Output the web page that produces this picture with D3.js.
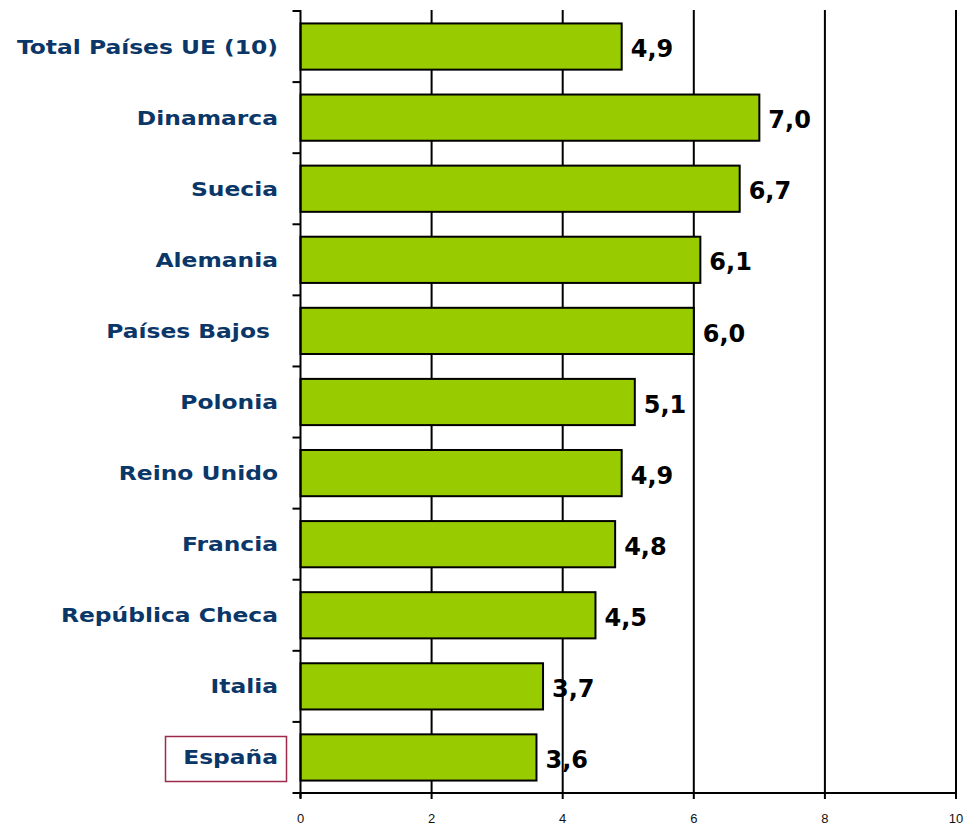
<!DOCTYPE html>
<html>
<head>
<meta charset="utf-8">
<script src="https://cdn.jsdelivr.net/npm/d3@7"></script>
<style>
  body { margin: 0; background: #fff; }
</style>
</head>
<body>
<div id="chart"></div>
<script>
var width = 965;
var height = 826;

var countries = ["Total Países UE (10)", "Dinamarca", "Suecia", "Alemania", "Países Bajos ",
  "Polonia", "Reino Unido", "Francia", "República Checa", "Italia", "España"];
var values = [4.9, 7.0, 6.7, 6.1, 6.0, 5.1, 4.9, 4.8, 4.5, 3.7, 3.6];
var xTicks = [0, 2, 4, 6, 8, 10];

var svg = d3.select("#chart").append("svg")
  .attr("width", width)
  .attr("height", height)
  .style("background-color", "white");

var x = d3.scaleLinear().domain([0, 10]).range([300.5, 956]);
var y = d3.scaleBand().domain(countries).range([11, 793])
  .paddingInner(0.35).paddingOuter(0.175);

// vertical grid lines
svg.selectAll(".grid").data(xTicks.slice(1)).join("line")
  .attr("x1", d => x(d)).attr("x2", d => x(d))
  .attr("y1", 10).attr("y2", 793)
  .attr("stroke", "black").attr("stroke-width", 2);

// bars
svg.selectAll(".bar").data(values).join("rect")
  .attr("x", x(0))
  .attr("y", (d, i) => y(countries[i]))
  .attr("width", d => x(d) - x(0))
  .attr("height", y.bandwidth())
  .attr("fill", "#99cc00")
  .attr("stroke", "black")
  .attr("stroke-width", 2);

// y axis line and ticks between categories
var step = y.step();
var bounds = d3.range(countries.length + 1).map(i => 11 + i * step);
svg.append("line").attr("x1", x(0)).attr("x2", x(0))
  .attr("y1", 10).attr("y2", 798).attr("stroke", "black").attr("stroke-width", 2);
svg.selectAll(".ytick").data(bounds).join("line")
  .attr("x1", x(0) - 8).attr("x2", x(0))
  .attr("y1", d => d).attr("y2", d => d)
  .attr("stroke", "black").attr("stroke-width", 2);

// x axis
svg.append("line").attr("x1", x(0)).attr("x2", x(10))
  .attr("y1", 793).attr("y2", 793).attr("stroke", "black").attr("stroke-width", 2);
svg.selectAll(".xtick").data(xTicks).join("line")
  .attr("x1", d => x(d)).attr("x2", d => x(d))
  .attr("y1", 793).attr("y2", 799)
  .attr("stroke", "black").attr("stroke-width", 2);
svg.selectAll(".xlabel").data(xTicks).join("text")
  .attr("x", d => x(d)).attr("y", 823)
  .attr("text-anchor", "middle")
  .attr("font-family", "Liberation Sans, Arial, sans-serif")
  .attr("font-size", 13)
  .attr("fill", "#111")
  .text(d => d);

// España box
svg.append("rect")
  .attr("x", 165.5).attr("y", 736.5)
  .attr("width", 121).attr("height", 45)
  .attr("fill", "none").attr("stroke", "#9e2a4b").attr("stroke-width", 1.5);

// category labels (stretched a bit, the original font is wider)
svg.selectAll(".ylabel").data(countries).join("text")
  .attr("transform", d => "translate(278," + (y(d) + y.bandwidth() / 2) + ") scale(1.2,1)")
  .attr("dy", "0.36em")
  .attr("text-anchor", "end")
  .style("white-space", "pre")
  .attr("font-family", "DejaVu Sans, Verdana, sans-serif")
  .attr("font-weight", "bold")
  .attr("font-size", 19.5)
  .attr("fill", "#0b3768")
  .text(d => d);

// value labels
svg.selectAll(".vlabel").data(values).join("text")
  .attr("x", d => x(d) + 9)
  .attr("y", (d, i) => y(countries[i]) + y.bandwidth() / 2 + 2)
  .attr("dy", "0.36em")
  .attr("font-family", "DejaVu Sans, Verdana, sans-serif")
  .attr("font-weight", "bold")
  .attr("font-size", 24)
  .attr("fill", "black")
  .text(d => d.toFixed(1).replace(".", ","));
</script>
</body>
</html>
